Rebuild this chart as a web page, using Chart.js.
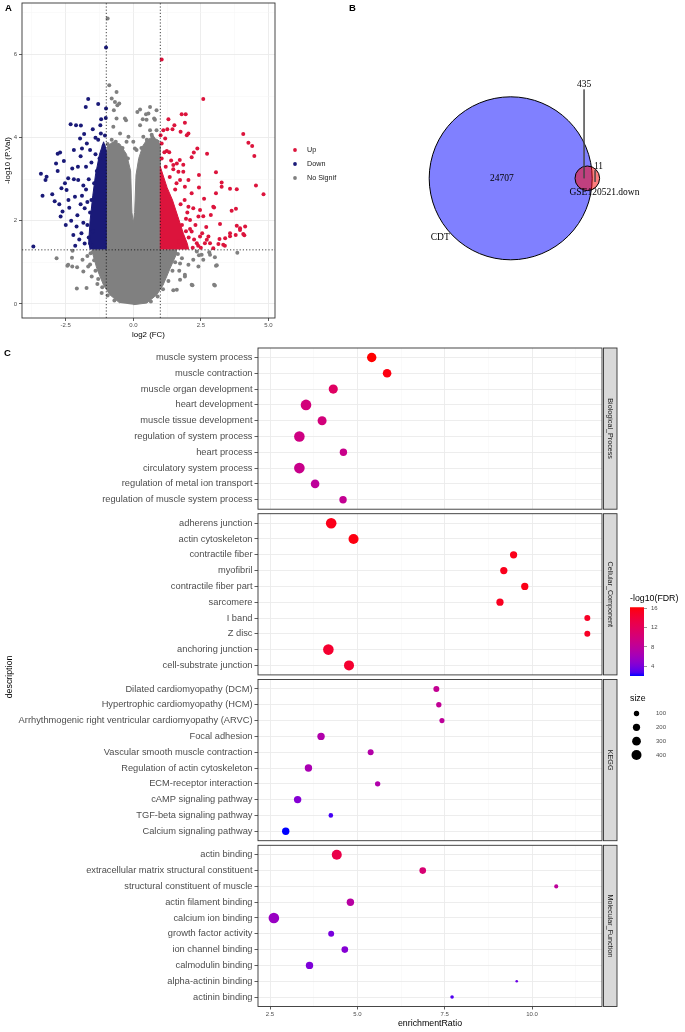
<!DOCTYPE html>
<html>
<head>
<meta charset="utf-8">
<title>Volcano, Venn and enrichment dot plot</title>
<script src="https://cdn.jsdelivr.net/npm/chart.js@4.4.1/dist/chart.umd.min.js"></script>
<style>
  html, body { margin: 0; padding: 0; background: #fff; }
  #page { position: relative; width: 685px; height: 1032px; overflow: hidden; background: #fff; }
  #page canvas { position: absolute; }
</style>
</head>
<body>
<div id="page"></div>
<script>
// ---------- A: volcano plot ----------
const upPoints = [[1.05,5.88],[2.59,4.93],[1.79,4.56],[1.94,4.56],[1.30,4.44],[1.52,4.30],[1.26,4.20],[1.91,4.36],[1.75,4.14],[2.04,4.10],
  [1.98,4.06],[1.11,4.18],[1.45,4.20],[4.07,4.09],[4.26,3.88],[4.40,3.80],[4.48,3.56],[4.54,2.85],[4.82,2.64],[2.73,3.61],
  [3.06,3.17],[3.27,2.92],[3.27,2.82],[3.58,2.77],[3.83,2.76],[3.06,2.66],[3.64,2.24],[3.80,2.29],[2.99,2.32],[2.62,2.53],
  [2.43,2.80],[2.37,3.74],[2.24,3.64],[2.16,3.53],[1.72,3.46],[1.48,3.34],[2.43,3.10],[3.21,1.92],[3.83,1.88],[4.14,1.86],
  [3.95,1.82],[4.07,1.68],[3.79,1.66],[3.58,1.63],[3.40,1.58],[3.19,1.56],[3.33,1.42],[3.39,1.40],[3.15,1.44],[2.78,1.62],
  [2.84,1.46],[2.96,1.34],[2.65,1.46],[2.59,2.11],[2.87,2.14],[2.96,2.34],[2.72,1.54],[2.47,1.62],[2.35,1.46],[2.16,1.74],
  [2.22,2.30],[2.41,2.10],[2.10,2.02],[2.04,2.34],[2.16,2.66],[2.04,2.98],[1.85,3.18],[1.73,2.98],[1.91,2.82],[1.67,3.18],
  [1.61,3.38],[1.48,3.24],[1.24,3.68],[1.33,3.65],[1.05,3.86],[1.18,3.98],[1.01,4.06],[3.95,1.78],[4.11,1.65],[3.58,1.70],
  [2.47,2.26],[1.05,3.50],[1.20,3.30],[1.35,3.05],[1.55,2.75],[1.75,2.40],[1.95,2.05],[2.10,1.80],[2.25,1.55],[2.40,1.40],
  [1.60,2.90],[1.90,2.50],[2.30,1.90],[2.55,1.70],[2.20,1.35],[1.40,3.45],[1.15,3.65],[2.00,2.20],[2.50,1.35],[2.70,1.85],
  [1.85,3.35],[1.70,1.50],[1.80,1.90],[1.90,1.40],[2.05,1.60],[1.95,1.75]];
const downPoints = [[-1.01,6.17],[-1.67,4.93],[-1.76,4.74],[-1.30,4.81],[-1.01,4.70],[-1.19,4.44],[-2.32,4.32],[-2.12,4.30],[-1.94,4.29],[-1.22,4.30],
  [-1.02,4.47],[-2.80,3.61],[-2.71,3.64],[-2.20,3.70],[-2.57,3.44],[-3.42,3.13],[-3.21,3.06],[-3.25,2.98],[-3.36,2.60],[-3.00,2.64],
  [-2.91,2.47],[-2.74,2.40],[-2.69,2.10],[-2.62,2.22],[-2.47,2.74],[-2.66,2.78],[-2.80,3.20],[-2.22,1.66],[-2.10,1.86],[-3.70,1.38],
  [-2.41,3.02],[-2.26,3.26],[-2.37,2.31],[-1.97,3.98],[-1.82,4.09],[-1.90,3.74],[-1.72,3.86],[-2.07,2.13],[-1.92,1.70],[-2.04,2.98],
  [-2.16,2.58],[-2.53,2.90],[-2.86,3.38],[-1.55,1.40],[-1.65,1.60],[-1.70,1.90],[-1.60,2.20],[-1.55,2.50],[-1.45,2.90],[-1.35,3.20],
  [-1.25,3.50],[-1.10,3.80],[-1.05,4.05],[-1.50,1.75],[-1.80,2.30],[-1.90,2.60],[-1.75,2.75],[-1.85,1.95],[-2.00,1.55],[-1.95,2.40],
  [-1.65,3.00],[-1.55,3.40],[-1.40,3.60],[-1.30,3.95],[-1.20,4.10],[-1.60,3.70],[-1.75,3.30],[-2.30,2.00],[-2.40,2.50],[-1.95,3.55],
  [-2.05,3.30],[-2.20,3.00],[-2.50,1.90],[-1.80,1.45],[-2.15,1.40],[-1.40,4.00],[-1.50,4.20],[-1.70,2.45],[-1.85,2.85],[-1.60,1.45]];
const nsPoints = [[-0.95,6.87],[-0.89,5.26],[-0.62,5.10],[-0.68,4.86],[-0.59,4.78],[-0.72,4.66],[0.25,4.68],[0.62,4.74],[0.56,4.58],[0.77,4.46],
  [0.86,4.66],[0.49,4.43],[-0.62,4.46],[-0.31,4.46],[-0.74,4.26],[-0.49,4.10],[-0.18,4.02],[0.25,4.30],[0.37,4.02],[0.68,4.07],
  [0.86,4.18],[0.47,4.56],[0.35,4.44],[0.80,4.43],[0.62,4.18],[0.74,3.98],[0.12,3.70],[0.00,3.90],[-0.80,4.94],[-0.52,4.82],
  [-0.27,4.42],[-0.25,3.90],[0.06,3.74],[0.15,4.62],[-2.84,1.10],[-2.41,0.94],[-2.26,0.90],[-2.08,0.88],[-1.88,1.06],[-1.85,0.78],
  [-1.67,0.90],[-1.54,0.66],[-1.73,0.38],[-1.33,0.48],[-1.17,0.26],[-1.58,1.22],[-2.44,0.92],[-2.09,0.37],[-2.27,1.11],[-2.25,1.28],
  [3.85,1.23],[3.02,0.44],[2.19,0.45],[3.06,0.92],[2.84,1.18],[3.02,1.12],[2.53,1.18],[2.41,0.90],[2.22,1.06],[2.04,0.94],
  [1.73,0.58],[1.61,0.34],[1.48,0.33],[1.91,0.70],[2.35,1.26],[2.59,1.06],[2.16,0.46],[2.99,0.46],[3.09,0.93],[2.43,1.17],
  [2.81,1.24],[1.73,0.97],[1.91,0.66],[-1.50,1.25],[-1.45,1.05],[-1.40,0.80],[-1.30,0.60],[-1.15,0.40],[-0.95,0.20],[-0.70,0.08],
  [1.65,1.20],[1.55,1.00],[1.45,0.80],[1.30,0.55],[1.10,0.35],[0.90,0.18],[0.65,0.06],[-0.95,3.85],[-0.80,3.95],[-0.65,3.90],
  [-0.40,3.75],[-0.20,3.50],[0.30,3.75],[0.50,3.95],[0.70,4.02],[0.90,3.90],[1.80,1.10],[1.70,0.80],[-1.70,1.15],[-1.60,0.95],[-1.20,1.20]];
// outlines of the solid (overplotted) clouds
const nsCloud = [[0,-0.02],[0.5,0.02],[0.87,0.22],[1.1,0.45],[1.36,0.85],[1.6,1.2],[1.6,1.3],[1.0,1.3],[1.0,3.8],[0.9,3.95],
  [0.7,4.0],[0.5,3.95],[0.35,3.8],[0.2,3.5],[0.1,3.1],[0.05,2.2],[0.0,1.95],[-0.05,2.2],[-0.1,3.2],[-0.25,3.6],[-0.5,3.85],
  [-0.75,3.9],[-0.95,3.8],[-1.0,3.5],[-1.0,1.3],[-1.5,1.3],[-1.5,1.2],[-1.35,0.85],[-1.1,0.45],[-0.87,0.22],[-0.5,0.02]];
const downCloud = [[-1.0,1.31],[-1.0,3.7],[-1.1,3.9],[-1.25,3.6],[-1.4,3.1],[-1.5,2.6],[-1.6,2.0],[-1.65,1.5],[-1.6,1.31]];
const upCloud = [[1.0,1.31],[1.0,3.3],[1.1,3.1],[1.25,2.8],[1.45,2.5],[1.65,2.1],[1.85,1.7],[2.0,1.45],[2.05,1.31]];
const groupNames = ['Up', 'Down', 'No Signif'];
const fcCut = [-1, 1];
const pCut = 1.3;
const volXTicks = [-3.75, -2.5, -1.25, 0, 1.25, 2.5, 3.75, 5];
const volXLabels = ['', '-2.5', '', '0.0', '', '2.5', '', '5.0'];
const volYTicks = [0, 1, 2, 3, 4, 5, 6, 7];
const volYLabels = ['0', '', '2', '', '4', '', '6', ''];

// ---------- B: Venn ----------
const vennSets = ['CDT', 'GSE120521.down'];
const vennCounts = [24707, 435, 11]; // CDT only, both, GSE only

// ---------- C: enrichment dot plot ----------
const facetNames = ['Biological_Process', 'Cellular_Component', 'KEGG', 'Molecular_Function'];
const bpTerms = ['muscle system process', 'muscle contraction', 'muscle organ development', 'heart development',
  'muscle tissue development', 'regulation of system process', 'heart process', 'circulatory system process',
  'regulation of metal ion transport', 'regulation of muscle system process'];
const bpRatio = [5.41, 5.85, 4.31, 3.53, 3.99, 3.34, 4.60, 3.34, 3.79, 4.59];
const bpSize = [350, 290, 330, 450, 320, 450, 210, 450, 290, 210];
const bpFDR = [16.2, 15.8, 11.5, 10, 10, 9.5, 9, 9, 8, 8.5];
const ccTerms = ['adherens junction', 'actin cytoskeleton', 'contractile fiber', 'myofibril', 'contractile fiber part',
  'sarcomere', 'I band', 'Z disc', 'anchoring junction', 'cell-substrate junction'];
const ccRatio = [4.25, 4.89, 9.47, 9.19, 9.79, 9.08, 11.58, 11.58, 4.17, 4.76];
const ccSize = [450, 400, 200, 200, 200, 200, 130, 130, 450, 400];
const ccFDR = [15.5, 15.8, 15.5, 15.4, 15.6, 15.2, 15.0, 15.0, 14.5, 14.5];
const keggTerms = ['Dilated cardiomyopathy (DCM)', 'Hypertrophic cardiomyopathy (HCM)',
  'Arrhythmogenic right ventricular cardiomyopathy (ARVC)', 'Focal adhesion', 'Vascular smooth muscle contraction',
  'Regulation of actin cytoskeleton', 'ECM-receptor interaction', 'cAMP signaling pathway', 'TGF-beta signaling pathway',
  'Calcium signaling pathway'];
const keggRatio = [7.26, 7.33, 7.42, 3.96, 5.38, 3.60, 5.58, 3.29, 4.24, 2.95];
const keggSize = [130, 100, 90, 210, 130, 210, 100, 210, 70, 210];
const keggFDR = [8.5, 8.3, 8, 7, 7.2, 6.5, 7, 4.5, 2.6, 2.0];
const mfTerms = ['actin binding', 'extracellular matrix structural constituent', 'structural constituent of muscle',
  'actin filament binding', 'calcium ion binding', 'growth factor activity', 'ion channel binding', 'calmodulin binding',
  'alpha-actinin binding', 'actinin binding'];
const mfRatio = [4.41, 6.87, 10.69, 4.80, 2.61, 4.25, 4.64, 3.63, 9.56, 7.71];
const mfSize = [400, 165, 50, 210, 450, 130, 165, 210, 10, 35];
const mfFDR = [13, 10.5, 8, 7.5, 5.5, 4, 4.5, 4.2, 3.5, 2.8];
const cXTicks = [2.5, 3.75, 5, 6.25, 7.5, 8.75, 10, 11.25];
const cXLabels = ['2.5', '', '5.0', '', '7.5', '', '10.0', ''];
const sizeBreaks = [100, 200, 300, 400];
const fdrBreaks = [4, 8, 12, 16];

const FONT = '"Liberation Sans", Arial, Helvetica, sans-serif';
const SERIF = '"Liberation Serif", "DejaVu Serif", serif';
Chart.defaults.font.family = FONT;
Chart.defaults.color = '#4D4D4D';

const page = document.getElementById('page');
function makeCanvas(left, top, w, h) {
  const c = document.createElement('canvas');
  c.width = w; c.height = h;
  c.style.left = left + 'px'; c.style.top = top + 'px';
  c.style.width = w + 'px'; c.style.height = h + 'px';
  page.appendChild(c);
  return c;
}
const base = {responsive: false, animation: false, events: [], devicePixelRatio: 1};
const noPlugins = {legend: {display: false}, tooltip: {enabled: false}};
const pad = p => ({autoPadding: false, padding: p});
const pts = arr => arr.map(p => ({x: p[0], y: p[1]}));
const setTicks = list => (s => { s.ticks = list.map(v => ({value: v})); });
// fixed axis thickness, and no extra room for half-labels at the ends
const fitTo = (w, h) => (s => {
  if (w !== null) s.width = w;
  if (h !== null) s.height = h;
  s.paddingTop = 0; s.paddingBottom = 0; s.paddingLeft = 0; s.paddingRight = 0;
});

// blue -> red in Lab, like ggplot's gradient
function rgbToLab(rgb) {
  const lin = rgb.map(c => { c /= 255; return c <= 0.04045 ? c / 12.92 : Math.pow((c + 0.055) / 1.055, 2.4); });
  const X = (0.4124564 * lin[0] + 0.3575761 * lin[1] + 0.1804375 * lin[2]) / 0.95047;
  const Y = 0.2126729 * lin[0] + 0.7151522 * lin[1] + 0.0721750 * lin[2];
  const Z = (0.0193339 * lin[0] + 0.1191920 * lin[1] + 0.9503041 * lin[2]) / 1.08883;
  const f = t => t > 0.008856 ? Math.cbrt(t) : 7.787 * t + 16 / 116;
  return [116 * f(Y) - 16, 500 * (f(X) - f(Y)), 200 * (f(Y) - f(Z))];
}
function labToCss(lab) {
  const fy = (lab[0] + 16) / 116, fx = fy + lab[1] / 500, fz = fy - lab[2] / 200;
  const inv = t => t * t * t > 0.008856 ? t * t * t : (t - 16 / 116) / 7.787;
  const X = inv(fx) * 0.95047, Y = inv(fy), Z = inv(fz) * 1.08883;
  const lin = [3.2404542 * X - 1.5371385 * Y - 0.4985314 * Z,
    -0.9692660 * X + 1.8760108 * Y + 0.0415560 * Z,
    0.0556434 * X - 0.2040259 * Y + 1.0572252 * Z];
  const out = lin.map(v => {
    v = v <= 0.0031308 ? 12.92 * v : 1.055 * Math.pow(Math.max(v, 0), 1 / 2.4) - 0.055;
    return Math.round(Math.min(1, Math.max(0, v)) * 255);
  });
  return 'rgb(' + out.join(',') + ')';
}
const allFDR = [].concat(bpFDR, ccFDR, keggFDR, mfFDR);
const fdrLo = Math.min(...allFDR), fdrHi = Math.max(...allFDR);
const labLow = rgbToLab([0, 0, 255]), labHigh = rgbToLab([255, 0, 0]);
function fdrColor(v) {
  const t = Math.min(1, Math.max(0, (v - fdrLo) / (fdrHi - fdrLo)));
  return labToCss(labLow.map((a, i) => a + (labHigh[i] - a) * t));
}
const sizeToR = s => Math.sqrt(1.13 + 0.06 * s);

// panel border + optional facet strip
const panelFrame = {
  id: 'panelFrame',
  afterDraw(chart, args, opts) {
    const {ctx, chartArea: a} = chart;
    ctx.save();
    ctx.strokeStyle = '#333'; ctx.lineWidth = 0.9;
    ctx.strokeRect(a.left, a.top, a.right - a.left, a.bottom - a.top);
    if (opts && opts.strip) {
      const x0 = a.right + 1.5, w = 13.5;
      ctx.fillStyle = '#D9D9D9';
      ctx.fillRect(x0, a.top, w, a.bottom - a.top);
      ctx.strokeRect(x0, a.top, w, a.bottom - a.top);
      ctx.translate(x0 + w / 2, (a.top + a.bottom) / 2);
      ctx.rotate(Math.PI / 2);
      ctx.fillStyle = '#1A1A1A';
      ctx.font = '7.2px ' + FONT;
      ctx.textAlign = 'center'; ctx.textBaseline = 'middle';
      ctx.fillText(opts.strip, 0, 0);
    }
    ctx.restore();
  }
};

// panel letters and the shared y title of C
new Chart(makeCanvas(0, 0, 685, 1032), {
  type: 'scatter',
  data: {datasets: []},
  options: Object.assign({}, base, {
    layout: pad(0),
    plugins: noPlugins,
    scales: {x: {display: false}, y: {display: false}}
  }),
  plugins: [{
    id: 'letters',
    afterDraw(chart) {
      const ctx = chart.ctx;
      ctx.save();
      ctx.fillStyle = '#000';
      ctx.font = 'bold 9.5px ' + FONT;
      ctx.textBaseline = 'middle';
      ctx.fillText('A', 5, 8);
      ctx.fillText('B', 349, 8);
      ctx.fillText('C', 4, 353);
      ctx.font = '8.8px ' + FONT;
      ctx.translate(10, 677);
      ctx.rotate(-Math.PI / 2);
      ctx.textAlign = 'center';
      ctx.fillText('description', 0, 0);
      ctx.restore();
    }
  }]
});

// ---------- A ----------
const gridMajorMinor = labels => ({
  color: c => labels[c.index] ? '#EBEBEB' : '#F4F4F4',
  lineWidth: c => labels[c.index] ? 0.9 : 0.5,
  tickColor: c => labels[c.index] ? '#333' : 'rgba(0,0,0,0)',
  tickWidth: 0.8,
  tickLength: 3
});
const cutLine = (data) => ({type: 'line', data: data, borderColor: '#111', borderWidth: 0.8, borderDash: [1.2, 2],
  pointRadius: 0, fill: false, order: 0});
const cloud = (data, color, order) => ({type: 'line', data: pts(data), fill: 'shape', backgroundColor: color,
  borderColor: color, borderWidth: 1, pointRadius: 0, tension: 0, order: order});
const BLUE = '#1A1A78', RED = '#DC143C', GREY = '#808080';

new Chart(makeCanvas(0, 0, 285, 341), {
  type: 'scatter',
  data: {
    datasets: [
      cutLine([{x: fcCut[0], y: -0.34}, {x: fcCut[0], y: 7.24}]),
      cutLine([{x: fcCut[1], y: -0.34}, {x: fcCut[1], y: 7.24}]),
      cutLine([{x: -4.12, y: pCut}, {x: 5.245, y: pCut}]),
      {label: groupNames[0], data: pts(upPoints), backgroundColor: RED, borderWidth: 0, pointRadius: 2, order: 1},
      {label: groupNames[1], data: pts(downPoints), backgroundColor: BLUE, borderWidth: 0, pointRadius: 2, order: 2},
      cloud(upCloud, RED, 3),
      cloud(downCloud, BLUE, 4),
      {label: groupNames[2], data: pts(nsPoints), backgroundColor: GREY, borderWidth: 0, pointRadius: 2, order: 5},
      cloud(nsCloud, GREY, 6)
    ]
  },
  options: Object.assign({}, base, {
    layout: pad({left: 0, right: 10, top: 3, bottom: 1}),
    plugins: noPlugins,
    scales: {
      x: {
        type: 'linear', min: -4.12, max: 5.245,
        afterBuildTicks: setTicks(volXTicks),
        afterFit: fitTo(null, 22),
        ticks: {autoSkip: false, maxRotation: 0, font: {size: 6}, color: '#4D4D4D', padding: 1,
          callback: (v, i) => volXLabels[i]},
        grid: gridMajorMinor(volXLabels),
        border: {display: false},
        title: {display: true, text: 'log2 (FC)', font: {size: 7.9}, color: '#000', padding: {top: 0, bottom: 0.3}}
      },
      y: {
        type: 'linear', min: -0.34, max: 7.24,
        afterBuildTicks: setTicks(volYTicks),
        afterFit: fitTo(22, null),
        ticks: {autoSkip: false, font: {size: 6}, color: '#4D4D4D', padding: 2,
          callback: (v, i) => volYLabels[i]},
        grid: gridMajorMinor(volYLabels),
        border: {display: false},
        title: {display: true, text: '-log10 (P.Val)', font: {size: 7.9}, color: '#000', padding: {top: 3.3, bottom: 0}}
      }
    }
  }),
  plugins: [panelFrame]
});

// legend of A
new Chart(makeCanvas(285, 143, 55, 42), {
  type: 'scatter',
  data: {datasets: [{data: groupNames.map((g, i) => ({x: 0.5, y: i})), backgroundColor: [RED, BLUE, GREY],
    borderWidth: 0, pointRadius: 1.9}]},
  options: Object.assign({}, base, {
    layout: pad({left: 5, right: 0, top: 0, bottom: 0}),
    plugins: noPlugins,
    scales: {
      x: {type: 'linear', min: 0, max: 1, display: false},
      y: {type: 'linear', position: 'right', reverse: true, min: -0.5, max: 2.5,
        afterBuildTicks: setTicks([0, 1, 2]),
        afterFit: fitTo(40, null),
        ticks: {font: {size: 7.2}, color: '#1A1A1A', padding: 7, callback: (v, i) => groupNames[i]},
        grid: {display: false, drawTicks: false}, border: {display: false}}
    }
  })
});

// ---------- B ----------
const vennUnit = 81.5;                       // px per unit radius of CDT circle
const vennCircles = [[0, 0, 1], [0.94, 0, 0.151]];
const vennLabelPos = [[-0.107, 0], [0.90, 1.157], [1.077, 0.15], [-0.865, -0.73], [1.15, -0.18]];
const vennLabelText = [String(vennCounts[0]), String(vennCounts[1]), String(vennCounts[2]), vennSets[0], vennSets[1]];
const vennText = {
  id: 'vennText',
  afterDatasetsDraw(chart) {
    const {ctx, scales: {x, y}} = chart;
    ctx.save();
    ctx.fillStyle = '#000';
    ctx.font = '9.5px ' + SERIF;
    ctx.textAlign = 'center'; ctx.textBaseline = 'middle';
    vennLabelPos.forEach((p, i) => ctx.fillText(vennLabelText[i], x.getPixelForValue(p[0]), y.getPixelForValue(p[1])));
    ctx.restore();
  }
};
new Chart(makeCanvas(340, 0, 345, 320), {
  type: 'bubble',
  data: {
    datasets: [
      {type: 'line', data: [{x: 0.90, y: 1.09}, {x: 0.90, y: 0}], borderColor: '#444', borderWidth: 0.7, pointRadius: 0, order: 0},
      {type: 'line', data: [{x: 1.035, y: 0.10}, {x: 1.035, y: -0.045}], borderColor: '#444', borderWidth: 0.7, pointRadius: 0, order: 0},
      {data: [{x: vennCircles[1][0], y: vennCircles[1][1], r: vennCircles[1][2] * vennUnit}],
        backgroundColor: 'rgba(255,0,0,0.5)', borderColor: '#000', borderWidth: 1, order: 1},
      {data: [{x: vennCircles[0][0], y: vennCircles[0][1], r: vennCircles[0][2] * vennUnit}],
        backgroundColor: 'rgb(128,128,255)', borderColor: '#000', borderWidth: 1, order: 2}
    ]
  },
  options: Object.assign({}, base, {
    layout: pad(0),
    plugins: noPlugins,
    scales: {
      x: {type: 'linear', display: false, min: -170.7 / vennUnit, max: (345 - 170.7) / vennUnit},
      y: {type: 'linear', display: false, min: -(320 - 178.3) / vennUnit, max: 178.3 / vennUnit}
    }
  }),
  plugins: [vennText]
});

// ---------- C ----------
const facetTerms = [bpTerms, ccTerms, keggTerms, mfTerms];
const facetRatio = [bpRatio, ccRatio, keggRatio, mfRatio];
const facetSize = [bpSize, ccSize, keggSize, mfSize];
const facetFDR = [bpFDR, ccFDR, keggFDR, mfFDR];
const facetTop = [348, 513.7, 679.5, 845.3];
const facetHeight = 161.2;

function facetChart(k) {
  const terms = facetTerms[k], ratio = facetRatio[k], size = facetSize[k], fdr = facetFDR[k];
  const last = k === facetTerms.length - 1;
  const top = facetTop[k], bottom = top + facetHeight;
  const cTop = Math.floor(top - 4);
  const cH = last ? 1032 - cTop : Math.ceil(bottom + 4 - cTop);
  const xH = last ? 25.5 : 0;
  const padBottom = last ? 0 : cH - (bottom - cTop);
  new Chart(makeCanvas(0, cTop, 685, cH), {
    type: 'bubble',
    data: {datasets: [{
      data: terms.map((t, i) => ({x: ratio[i], y: i, r: sizeToR(size[i])})),
      backgroundColor: fdr.map(fdrColor),
      borderColor: 'rgba(0,0,0,0)', borderWidth: 0
    }]},
    options: Object.assign({}, base, {
      layout: pad({left: 0, right: 83, top: top - cTop, bottom: padBottom}),
      plugins: Object.assign({}, noPlugins, {panelFrame: {strip: facetNames[k]}}),
      scales: {
        x: {
          type: 'linear', min: 2.156, max: 12.0,
          afterBuildTicks: setTicks(cXTicks),
          afterFit: fitTo(null, xH),
          ticks: {display: last, autoSkip: false, maxRotation: 0, font: {size: 6}, color: '#4D4D4D', padding: 1.5,
            callback: (v, i) => cXLabels[i]},
          grid: Object.assign(gridMajorMinor(cXLabels), {drawTicks: last}),
          border: {display: false},
          title: {display: last, text: 'enrichmentRatio', font: {size: 8.8}, color: '#000', padding: {top: 0, bottom: 2.7}}
        },
        y: {
          type: 'linear', reverse: true, min: -0.6, max: terms.length - 0.4,
          afterBuildTicks: setTicks(terms.map((t, i) => i)),
          afterFit: fitTo(258, null),
          ticks: {autoSkip: false, font: {size: 9.3}, color: '#4D4D4D', padding: 2,
            callback: (v, i) => terms[i]},
          grid: {color: '#EBEBEB', lineWidth: 0.9, tickColor: '#333', tickWidth: 0.8, tickLength: 3.5},
          border: {display: false}
        }
      }
    }),
    plugins: [panelFrame]
  });
}
facetTerms.forEach((t, k) => facetChart(k));

// colour bar legend
new Chart(makeCanvas(620, 590, 65, 86), {
  type: 'bar',
  data: {labels: ['FDR'], datasets: [{
    data: [[fdrLo, fdrHi]],
    barPercentage: 1, categoryPercentage: 1, borderWidth: 0,
    backgroundColor: c => {
      const area = c.chart.chartArea;
      if (!area) return 'rgba(0,0,0,0)';
      const g = c.chart.ctx.createLinearGradient(0, area.bottom, 0, area.top);
      for (let i = 0; i <= 20; i++) g.addColorStop(i / 20, fdrColor(fdrLo + (fdrHi - fdrLo) * i / 20));
      return g;
    }
  }]},
  options: Object.assign({}, base, {
    layout: pad({left: 10, right: 0, top: 0, bottom: 0}),
    plugins: Object.assign({}, noPlugins, {title: {display: true, text: '-log10(FDR)', align: 'start',
      font: {size: 8.8, weight: 'normal'}, color: '#000', padding: {top: 3.7, bottom: 3}}}),
    scales: {
      x: {display: false},
      y: {type: 'linear', position: 'right', min: fdrLo, max: fdrHi,
        afterBuildTicks: setTicks(fdrBreaks),
        afterFit: fitTo(41, null),
        ticks: {font: {size: 6}, color: '#4D4D4D', padding: 4, callback: (v, i) => String(fdrBreaks[i])},
        grid: {drawOnChartArea: false, drawTicks: true, tickLength: 3, tickColor: '#555', tickWidth: 0.6},
        border: {display: false}}
    }
  })
});

// size legend
new Chart(makeCanvas(620, 690, 65, 72), {
  type: 'bubble',
  data: {datasets: [{data: sizeBreaks.map((s, i) => ({x: 0.5, y: i, r: sizeToR(s)})),
    backgroundColor: '#000', borderColor: 'rgba(0,0,0,0)', borderWidth: 0}]},
  options: Object.assign({}, base, {
    layout: pad({left: 10, right: 0, top: 0, bottom: 0}),
    plugins: Object.assign({}, noPlugins, {title: {display: true, text: 'size', align: 'start',
      font: {size: 8.8, weight: 'normal'}, color: '#000', padding: {top: 3, bottom: 3}}}),
    scales: {
      x: {type: 'linear', min: 0, max: 1, display: false},
      y: {type: 'linear', position: 'right', reverse: true, min: -0.5, max: 3.5,
        afterBuildTicks: setTicks([0, 1, 2, 3]),
        afterFit: fitTo(42, null),
        ticks: {font: {size: 6}, color: '#4D4D4D', padding: 13, callback: (v, i) => String(sizeBreaks[i])},
        grid: {display: false, drawTicks: false}, border: {display: false}}
    }
  })
});
</script>
</body>
</html>
